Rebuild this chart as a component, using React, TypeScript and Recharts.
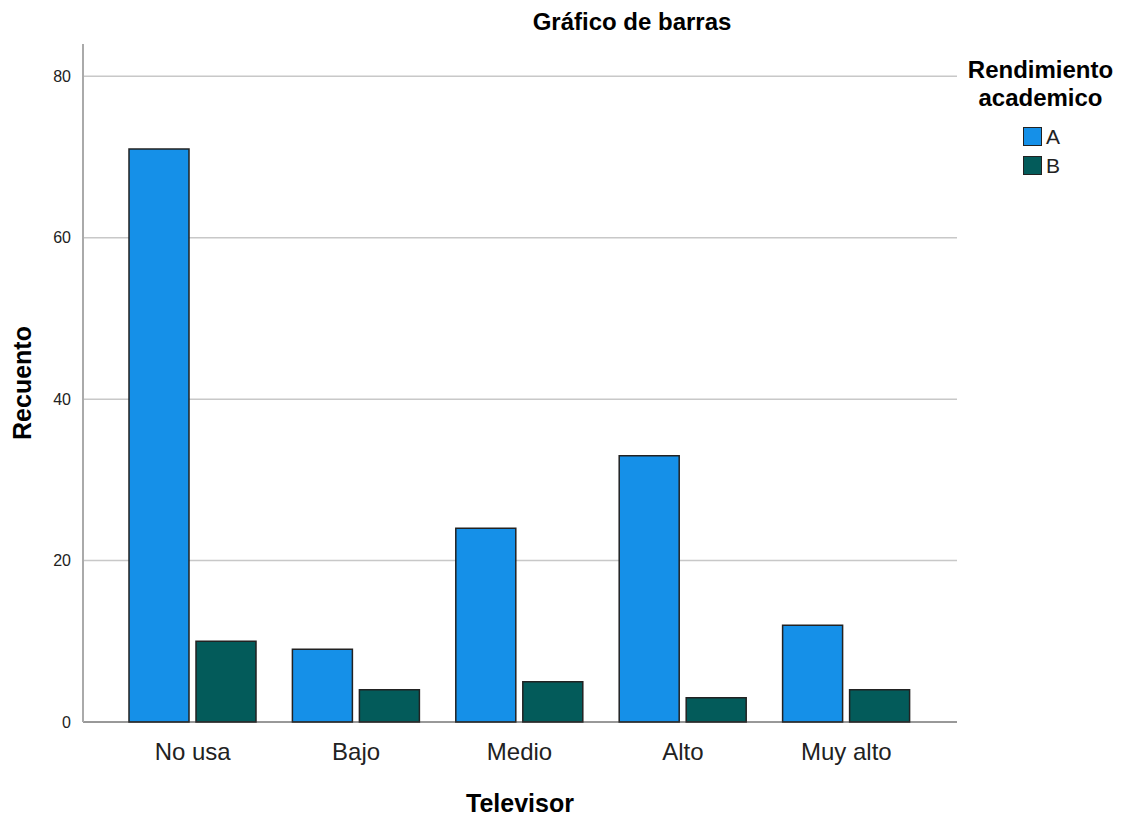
import { BarChart, Bar, XAxis, YAxis, CartesianGrid } from 'recharts'

const categories = ['No usa', 'Bajo', 'Medio', 'Alto', 'Muy alto']
const serieA = [71, 9, 24, 33, 12]
const serieB = [10, 4, 5, 3, 4]
const yTicks = [0, 20, 40, 60, 80]

const data = categories.map((name, i) => ({ name, A: serieA[i], B: serieB[i] }))

const colors = { A: '#1590e8', B: '#035b5a' }
const font = '"Liberation Sans", Arial, sans-serif'

function LegendBox() {
  return (
    <div style={{ position: 'absolute', left: 960, top: 56, width: 161, fontFamily: font, color: '#000', textAlign: 'center' }}>
      <div style={{ fontWeight: 'bold', fontSize: 24, lineHeight: '28px', whiteSpace: 'nowrap' }}>
        Rendimiento
        <br />
        academico
      </div>
      <div style={{ marginTop: 10, display: 'inline-block', textAlign: 'left', marginLeft: 2 }}>
        {(['A', 'B'] as const).map((k) => (
          <div key={k} style={{ display: 'flex', alignItems: 'center', height: 29, fontSize: 21, color: '#222' }}>
            <span
              style={{
                width: 19,
                height: 19,
                background: colors[k],
                border: '1.5px solid #222',
                marginRight: 4,
                boxSizing: 'border-box',
              }}
            />
            {k}
          </div>
        ))}
      </div>
    </div>
  )
}

export default function App() {
  return (
    <div style={{ position: 'relative', margin: -8, width: 1121, height: 821, background: '#fff', fontFamily: font }}>
      <div
        style={{
          position: 'absolute',
          top: 8,
          left: 632,
          transform: 'translateX(-50%)',
          fontWeight: 'bold',
          fontSize: 24,
          lineHeight: '28px',
          whiteSpace: 'nowrap',
        }}
      >
        Gráfico de barras
      </div>
      <BarChart
        width={1121}
        height={821}
        data={data}
        margin={{ top: 44, right: 164, bottom: 0, left: 0 }}
        barSize={60}
        barGap={7}
      >
        <CartesianGrid vertical={false} horizontalValues={yTicks.slice(1)} stroke="#c8c8c8" strokeWidth={1.5} />
        <XAxis
          dataKey="name"
          height={99}
          padding={{ left: 28, right: 29 }}
          axisLine={{ stroke: '#333', strokeWidth: 1 }}
          tickLine={false}
          tick={{ fill: '#222', fontSize: 24, fontFamily: font }}
          tickMargin={15}
          label={{
            value: 'Televisor',
            position: 'insideBottom',
            offset: 9,
            style: { fontWeight: 'bold', fontSize: 25, fill: '#000', fontFamily: font },
          }}
        />
        <YAxis
          width={83}
          domain={[0, 84]}
          ticks={yTicks}
          axisLine={{ stroke: '#aaa', strokeWidth: 2 }}
          tickLine={false}
          tick={{ fill: '#222', fontSize: 16, fontFamily: font }}
          tickMargin={6}
          label={{
            value: 'Recuento',
            angle: -90,
            position: 'insideLeft',
            offset: 22,
            style: { fontWeight: 'bold', fontSize: 25, fill: '#000', fontFamily: font, textAnchor: 'middle' },
          }}
        />
        <Bar dataKey="A" fill={colors.A} stroke="#222" strokeWidth={1.5} isAnimationActive={false} />
        <Bar dataKey="B" fill={colors.B} stroke="#222" strokeWidth={1.5} isAnimationActive={false} />
      </BarChart>
      <LegendBox />
    </div>
  )
}
